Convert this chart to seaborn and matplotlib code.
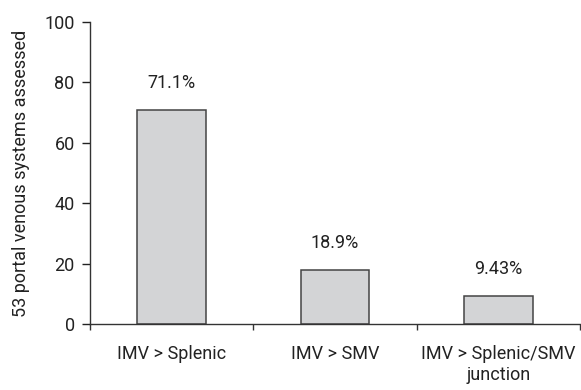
import matplotlib
matplotlib.use("Agg")
import matplotlib.pyplot as plt
import seaborn as sns
import pandas as pd
from matplotlib.ticker import FixedLocator

categories = ["IMV > Splenic", "IMV > SMV", "IMV > Splenic/SMV\njunction"]
values = [70.9, 18.0, 9.4]
labels = ["71.1%", "18.9%", "9.43%"]
yticks = [0, 20, 40, 60, 80, 100]

sns.set_style("ticks")
plt.rcParams['font.family'] = ['Roboto', 'DejaVu Sans']
FS = 13

df = pd.DataFrame({"cat": categories, "val": values})

fig = plt.figure(figsize=(5.81, 3.9), dpi=100)
ax = fig.add_axes([90/581, 1-324/390, 490/581, 302/390])
sns.barplot(data=df, x="cat", y="val", ax=ax, color="#d3d4d6",
            edgecolor="#444444", linewidth=1.1, width=0.42, saturation=1)

for i, (v, t) in enumerate(zip(values, labels)):
    ax.text(i, v + 5.8, t, ha="center", va="bottom", fontsize=FS, color="#222222")

ax.set_xlim(-0.5, 2.5)
ax.set_ylim(0, 100)
ax.set_yticks(yticks)
ax.set_xlabel("")
ax.set_ylabel("53 portal venous systems assessed", fontsize=FS, color="#222222", labelpad=10)
ax.tick_params(axis="y", labelsize=FS, colors="#222222", length=6, width=1, pad=5)
ax.tick_params(axis="x", which="major", length=0, labelsize=FS, colors="#222222", pad=15)
ax.xaxis.set_minor_locator(FixedLocator([-0.5, 0.5, 1.5, 2.5]))
ax.tick_params(axis="x", which="minor", length=4, width=1, color="#333333")
sns.despine(ax=ax, top=True, right=True)
for s in ["left", "bottom"]:
    ax.spines[s].set_color("#333333")
    ax.spines[s].set_linewidth(1)
for lbl in ax.get_xticklabels():
    lbl.set_linespacing(1.25)

fig.savefig("out.png", dpi=100)
